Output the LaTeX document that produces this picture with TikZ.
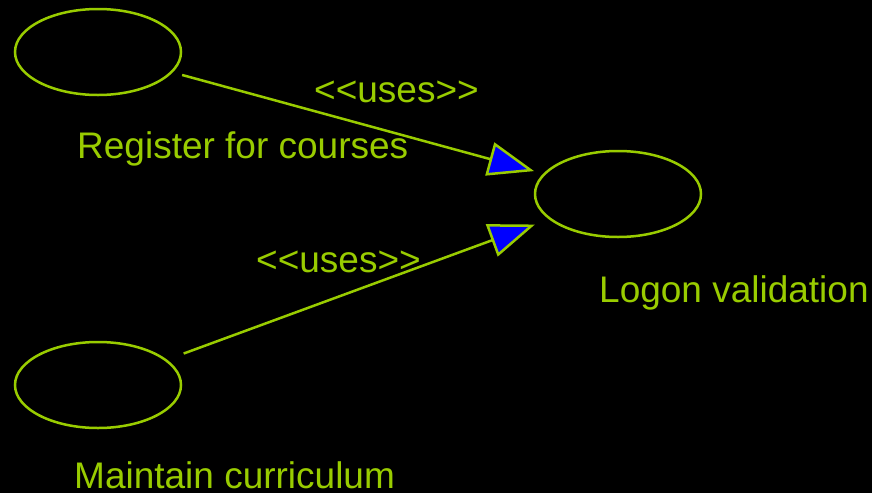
\documentclass[tikz,border=0pt]{standalone}
\usepackage{fontspec}
\setmainfont{Liberation Sans}
\usepackage{xcolor}
\usepackage{tikz}
\usetikzlibrary{arrows.meta, shapes.geometric}

\definecolor{umlgreen}{RGB}{153,204,0}
\definecolor{umlblue}{RGB}{0,0,255}

\begin{document}
\begin{tikzpicture}[x=1pt, y=-1pt,
    usecase/.style={ellipse, draw=umlgreen, line width=2.5pt, minimum width=166pt, minimum height=86pt, inner sep=0pt},
    lbl/.style={anchor=base west, inner sep=0pt, text=umlgreen, font=\fontsize{37}{40}\selectfont},
    uses/.style={draw=umlgreen, line width=2.5pt, -{Triangle[length=46pt, width=34pt, fill=umlblue]}}]
    % 1. Nền đen
    \fill[black] (0,0) rectangle (872,493);
    \useasboundingbox (0,0) rectangle (872,493);

    % 2. Các use case
    \node[usecase] (register) at (98,52) {};
    \node[usecase] (maintain) at (98,385) {};
    \node[usecase] (logon) at (618,194) {};

    % 3. Tên use case
    \node[lbl] (registerlbl) at (77,158) {Register for courses};
    \node[lbl] (maintainlbl) at (74,488) {Maintain curriculum};
    \node[lbl] (logonlbl) at (599,302) {Logon validation};

    % 4. Quan hệ <<uses>>
    \draw[uses, shorten <=9.7pt, shorten >=9.5pt] (register) -- (logon);
    \draw[uses, shorten <=17.7pt, shorten >=15pt] (maintain) -- (logon);
    \node[lbl] (usesA) at (314,102) {<\kern0pt<uses>\kern0pt>};
    \node[lbl] (usesB) at (256,272) {<\kern0pt<uses>\kern0pt>};
\end{tikzpicture}
\end{document}
